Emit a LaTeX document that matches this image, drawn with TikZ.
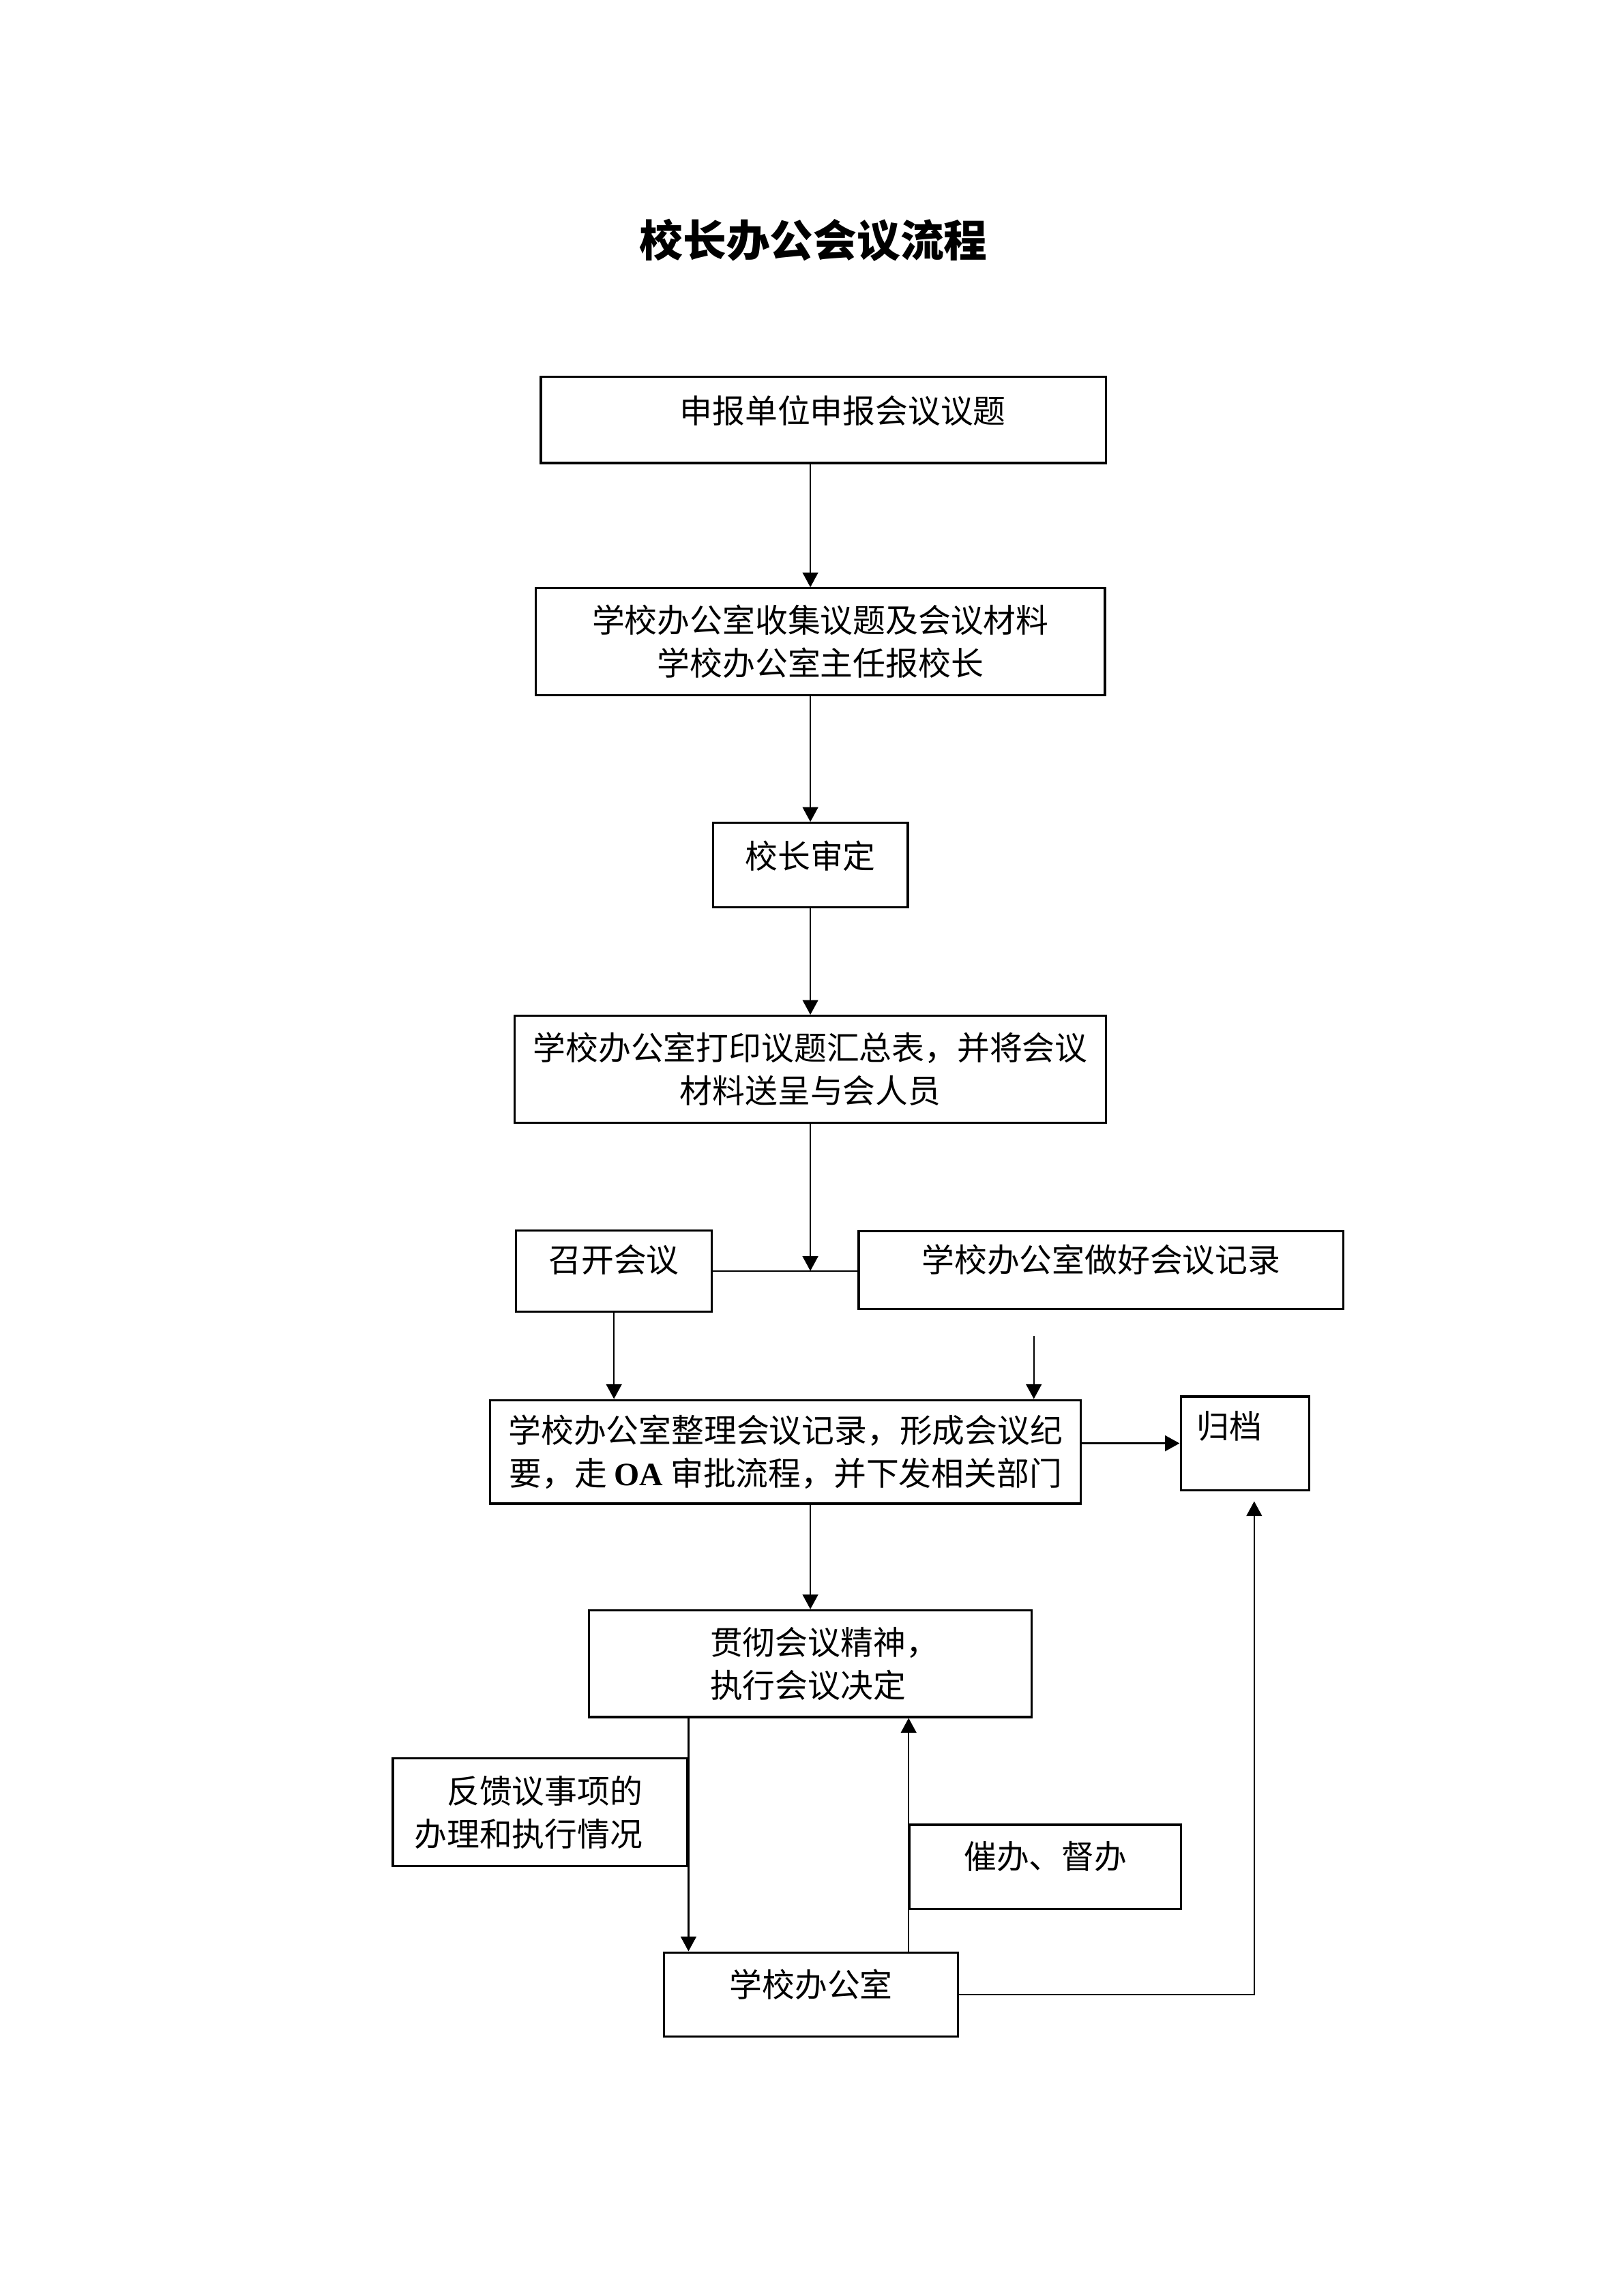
\documentclass[tikz,border=0pt]{standalone}
\usepackage{fontspec}
\setmainfont{Noto Sans CJK SC}
\newfontfamily\timesfont{Liberation Serif}
\usetikzlibrary{arrows.meta}
\newcommand{\oa}{{\timesfont\bfseries OA}}
\tikzset{
	box/.style={draw, line width=0.8pt, inner sep=0pt, font=\fontsize{12}{15.8}\selectfont},
	arr/.style={-{Triangle[length=1.9mm,width=2mm]}, line width=0.6pt},
}

\begin{document}
\begin{tikzpicture}
	\useasboundingbox (0,0) rectangle (21,-29.7);
	\node[font=\fontsize{16}{20}\selectfont\bfseries] (title) at (10.52,-3.11) {校长办公会议流程};
	\node[box, minimum width=7.31cm, text height=6mm, text depth=5.2mm] (apply) at (10.65,-5.43) {\hspace*{5mm}申报单位申报会议议题};
	\node[box, minimum width=7.36cm, minimum height=1.38cm, align=center] (collect) at (10.61,-8.30) {学校办公室收集议题及会议材料\\学校办公室主任报校长};
	\node[box, minimum width=2.52cm, text height=5.9mm, text depth=5.0mm] (review) at (10.48,-11.19) {校长审定};
	\node[box, minimum width=7.65cm, minimum height=1.38cm, align=center] (print) at (10.48,-13.83) {学校办公室打印议题汇总表，并将会议\\材料送呈与会人员};
	\node[box, minimum width=2.53cm, text height=5.4mm, text depth=5.1mm] (open) at (7.94,-16.44) {召开会议};
	\node[box, minimum width=6.27cm, text height=5.3mm, text depth=4.8mm] (record) at (14.24,-16.43) {学校办公室做好会议记录};
	\node[box, minimum width=7.64cm, minimum height=1.34cm, align=center] (minutes) at (10.16,-18.78) {学校办公室整理会议记录，形成会议纪\\要，走 \oa{} 审批流程，并下发相关部门};
	\node[box, minimum width=1.66cm, text height=5.4mm, text depth=6.7mm] (archive) at (16.10,-18.67) {归档\hspace*{4mm}};
	\node[box, minimum width=5.72cm, minimum height=1.38cm, align=left] (carry) at (10.48,-21.52) {\hspace*{3.6mm}贯彻会议精神，\\\hspace*{3.6mm}执行会议决定};
	\node[box, minimum width=3.81cm, minimum height=1.39cm, align=right] (feedback) at (6.985,-23.44) {反馈议事项的\hspace*{3mm}\\办理和执行情况\hspace*{3mm}};
	\node[box, minimum width=3.51cm, text height=5.7mm, text depth=5.2mm] (urge) at (13.52,-24.15) {催办、督办};
	\node[box, minimum width=3.80cm, text height=5.8mm, text depth=5.1mm] (office) at (10.49,-25.80) {学校办公室};
	\coordinate (join) at (print.south |- open.east);
	\coordinate (note) at (13.37,-17.28);
	\coordinate (file) at (16.22,-19.42);
	\draw[arr] (apply.south -| review) -- (collect.north -| review);
	\draw[arr] (collect.south -| review) -- (review.north);
	\draw[arr] (review.south) -- (review.south |- print.north);
	\draw[line width=0.6pt] (open.east) -- (open.east -| record.west);
	\draw[arr] (print.south) -- (join);
	\draw[arr] (open.south) -- (open.south |- minutes.north);
	\draw[arr] (note) -- (note |- minutes.north);
	\draw[arr, line width=0.9pt] (archive.west -| minutes.east) -- (archive.west);
	\draw[arr] (minutes.south -| carry) -- (carry.north);
	\draw[arr] (carry.south -| feedback.east) -- (office.north -| feedback.east);
	\draw[arr] (office.north -| urge.west) -- (carry.south -| urge.west);
	\draw[arr] (office.east) -| (file);
\end{tikzpicture}
\end{document}
